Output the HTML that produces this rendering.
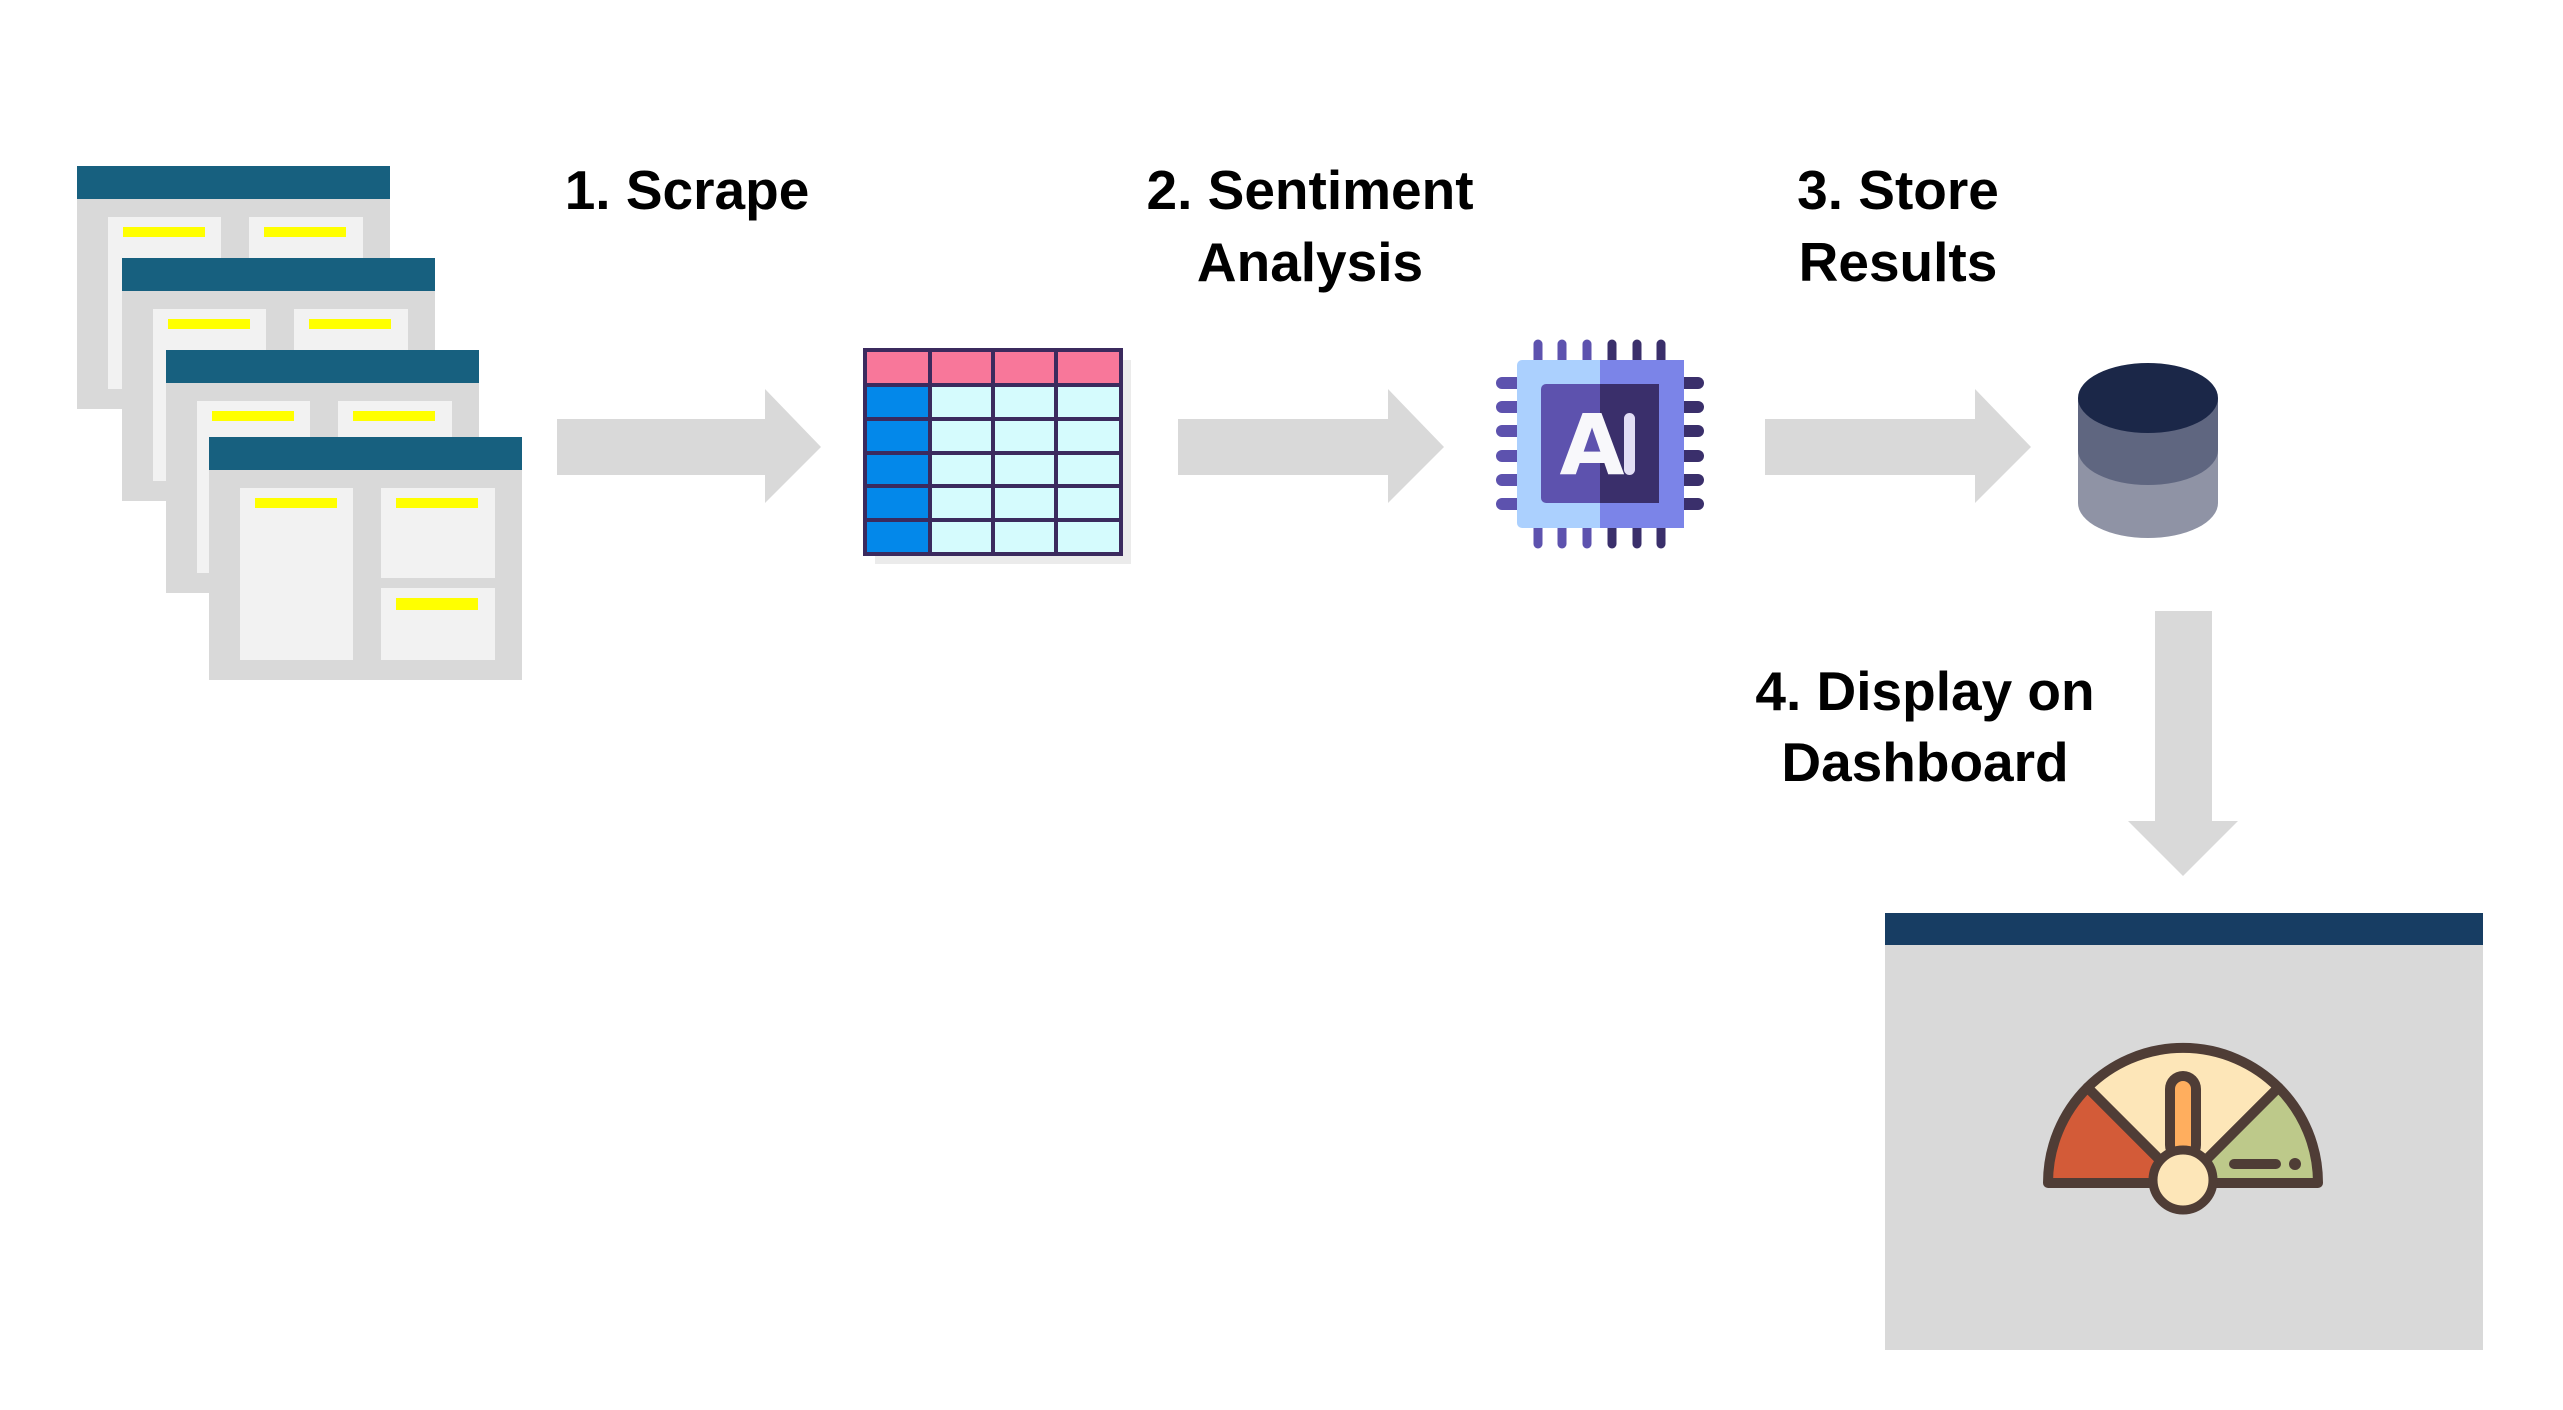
<!DOCTYPE html>
<html><head><meta charset="utf-8"><style>
html,body{margin:0;padding:0;background:#fff;width:2563px;height:1410px;overflow:hidden}
svg{display:block}
text{font-family:"Liberation Sans",sans-serif;font-weight:bold;fill:#000}
</style></head><body>
<svg width="2563" height="1410" viewBox="0 0 2563 1410" xmlns="http://www.w3.org/2000/svg">
<defs>
<g id="win">
<rect x="0" y="0" width="313" height="243" fill="#d9d9d9"/>
<rect x="0" y="0" width="313" height="33" fill="#17607f"/>
<rect x="31" y="51" width="113" height="172" fill="#f2f2f2"/>
<rect x="172" y="51" width="114" height="90" fill="#f2f2f2"/>
<rect x="172" y="151" width="114" height="72" fill="#f2f2f2"/>
<rect x="46" y="61" width="82" height="10" fill="#ffff00"/>
<rect x="187" y="61" width="82" height="10" fill="#ffff00"/>
<rect x="187" y="161" width="82" height="12" fill="#ffff00"/>
</g>
</defs>
<use href="#win" x="77" y="166"/>
<use href="#win" x="122" y="258"/>
<use href="#win" x="166" y="350"/>
<use href="#win" x="209" y="437"/>

<!-- labels -->
<g font-size="55" text-anchor="middle">
<text x="687" y="209">1. Scrape</text>
<text x="1310" y="209">2. Sentiment</text>
<text x="1310" y="281">Analysis</text>
<text x="1898" y="209">3. Store</text>
<text x="1898" y="281">Results</text>
<text x="1925" y="710">4. Display on</text>
<text x="1925" y="781">Dashboard</text>
</g>

<!-- arrows -->
<g fill="#d9d9d9">
<polygon points="557,419 765,419 765,389 821,447 765,503 765,475 557,475"/>
<polygon points="1178,419 1388,419 1388,389 1444,447 1388,503 1388,475 1178,475"/>
<polygon points="1765,419 1975,419 1975,389 2031,447 1975,503 1975,475 1765,475"/>
<polygon points="2155,611 2212,611 2212,821 2238,821 2183,876 2128,821 2155,821"/>
</g>

<!-- table -->
<rect x="875" y="360" width="256" height="204" fill="#ebebeb"/>
<rect x="865" y="350" width="256" height="204" fill="#d5fbfd"/>
<rect x="865" y="350" width="256" height="35" fill="#f8779a"/>
<rect x="865" y="385" width="65" height="169" fill="#0388ea"/>
<g stroke="#3b2a5e" stroke-width="4" fill="none">
<rect x="865" y="350" width="256" height="204"/>
<line x1="930" y1="350" x2="930" y2="554"/><line x1="993" y1="350" x2="993" y2="554"/><line x1="1056" y1="350" x2="1056" y2="554"/>
<line x1="865" y1="385" x2="1121" y2="385"/><line x1="865" y1="419" x2="1121" y2="419"/><line x1="865" y1="453" x2="1121" y2="453"/><line x1="865" y1="486" x2="1121" y2="486"/><line x1="865" y1="520" x2="1121" y2="520"/>
</g>

<!-- chip -->
<g stroke-linecap="round" stroke-width="9">
<g stroke="#5d52ae">
<line x1="1538" y1="344" x2="1538" y2="362"/><line x1="1562" y1="344" x2="1562" y2="362"/><line x1="1587" y1="344" x2="1587" y2="362"/>
<line x1="1538" y1="526" x2="1538" y2="544"/><line x1="1562" y1="526" x2="1562" y2="544"/><line x1="1587" y1="526" x2="1587" y2="544"/>
</g>
<g stroke="#3a2f6b">
<line x1="1612" y1="344" x2="1612" y2="362"/><line x1="1637" y1="344" x2="1637" y2="362"/><line x1="1661" y1="344" x2="1661" y2="362"/>
<line x1="1612" y1="526" x2="1612" y2="544"/><line x1="1637" y1="526" x2="1637" y2="544"/><line x1="1661" y1="526" x2="1661" y2="544"/>
</g>
</g>
<g stroke-linecap="round" stroke-width="12">
<g stroke="#5d52ae">
<line x1="1502" y1="383" x2="1520" y2="383"/><line x1="1502" y1="407" x2="1520" y2="407"/><line x1="1502" y1="431" x2="1520" y2="431"/><line x1="1502" y1="456" x2="1520" y2="456"/><line x1="1502" y1="480" x2="1520" y2="480"/><line x1="1502" y1="504" x2="1520" y2="504"/>
</g>
<g stroke="#3a2f6b">
<line x1="1680" y1="383" x2="1698" y2="383"/><line x1="1680" y1="407" x2="1698" y2="407"/><line x1="1680" y1="431" x2="1698" y2="431"/><line x1="1680" y1="456" x2="1698" y2="456"/><line x1="1680" y1="480" x2="1698" y2="480"/><line x1="1680" y1="504" x2="1698" y2="504"/>
</g>
</g>
<rect x="1517" y="360" width="167" height="168" rx="5" fill="#abd0fe"/>
<rect x="1600" y="360" width="84" height="168" fill="#7b84e8"/>
<rect x="1541" y="384" width="118" height="119" rx="5" fill="#5d52ae"/>
<rect x="1600" y="384" width="59" height="119" fill="#3a2f6b"/>
<text x="1592" y="474" font-size="84" text-anchor="middle" style="fill:#f8f8fb;font-family:'DejaVu Sans',sans-serif">A</text>
<rect x="1624" y="413" width="11" height="62" rx="5.5" fill="#e2def5"/>

<!-- database -->
<ellipse cx="2148" cy="503" rx="70" ry="35" fill="#8f93a5"/>
<rect x="2078" y="450" width="140" height="53" fill="#8f93a5"/>
<ellipse cx="2148" cy="450" rx="70" ry="35" fill="#5f6680"/>
<rect x="2078" y="398" width="140" height="52" fill="#5f6680"/>
<ellipse cx="2148" cy="398" rx="70" ry="35" fill="#1b2748"/>

<!-- dashboard -->
<rect x="1885" y="913" width="598" height="437" fill="#d9d9d9"/>
<rect x="1885" y="913" width="598" height="32" fill="#173d63"/>
<g stroke="#4f3d36" stroke-width="10" stroke-linejoin="round">
<path d="M2183 1183 L2048 1183 A135 135 0 0 1 2087.5 1087.5 Z" fill="#d35b38"/>
<path d="M2183 1183 L2087.5 1087.5 A135 135 0 0 1 2278.5 1087.5 Z" fill="#fde6b8"/>
<path d="M2183 1183 L2278.5 1087.5 A135 135 0 0 1 2318 1183 Z" fill="#bdc98a"/>
</g>
<rect x="2165" y="1071" width="36" height="92" rx="18" fill="#4f3d36"/>
<rect x="2175" y="1081" width="16" height="72" rx="8" fill="#ffae5e"/>
<circle cx="2183" cy="1180" r="30" fill="#fde6b8" stroke="#4f3d36" stroke-width="9"/>
<line x1="2234" y1="1164" x2="2276" y2="1164" stroke="#4f3d36" stroke-width="10" stroke-linecap="round"/>
<circle cx="2295" cy="1164" r="6" fill="#4f3d36"/>
</svg>
</body></html>
